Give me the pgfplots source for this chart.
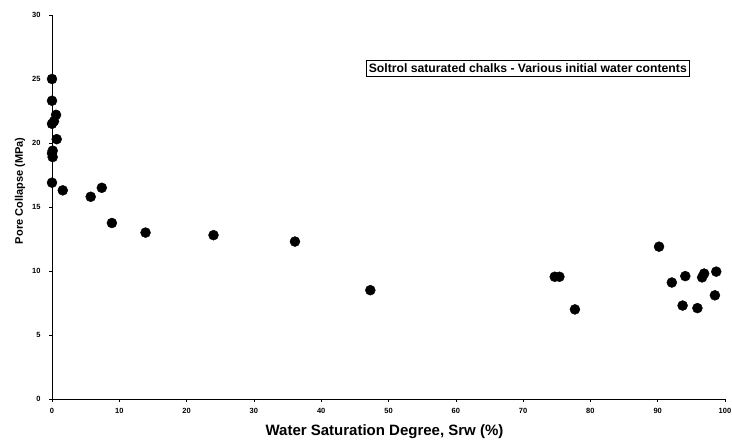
\documentclass[border=0pt]{standalone}
\usepackage{pgfplots}
\pgfplotsset{compat=1.18}
\usepackage{fontspec}
\setmainfont{Liberation Sans}
\begin{document}
\begin{tikzpicture}[x=1pt,y=1pt]
  \path[use as bounding box] (0,0) rectangle (732,444);
  \begin{axis}[
      at={(52pt,45pt)}, anchor=south west,
      scale only axis,
      width=673pt, height=384pt,
      xmin=0, xmax=100, ymin=0, ymax=30,
      axis x line*=bottom, axis y line*=left,
      axis line style={black, line width=0.8pt},
      xtick={0,10,...,100}, ytick={0,5,...,30},
      tick align=outside, major tick length=3pt,
      tick style={black, line width=0.6pt},
      ticklabel style={font=\bfseries\fontsize{7.5}{8}\selectfont},
      xticklabel style={yshift=-3pt},
      yticklabel style={xshift=-5pt},
      /pgf/number format/assume math mode=true,
      xlabel={\bfseries Water Saturation Degree, Srw (\%)},
      ylabel={\bfseries Pore Collapse (MPa)},
      xlabel style={font=\bfseries\fontsize{15}{17}\selectfont,
                    at={(axis description cs:0.5,0)}, anchor=center, yshift=-33pt, xshift=-4pt},
      ylabel style={font=\bfseries\fontsize{11}{13}\selectfont,
                    at={(axis description cs:-0.0475,0.542)}, anchor=center},
      clip=false,
    ]
    \addplot[only marks, mark=*, mark size=5pt, black] coordinates {
      (0,25.0) (0,23.3) (0.6,22.2) (0.3,21.7) (0,21.5) (0.7,20.3)
      (0.1,19.4) (0.1,18.9) (0,19.2) (0,16.9) (1.6,16.3)
      (5.75,15.8) (7.4,16.5) (8.9,13.75) (13.9,13.0) (24.0,12.8)
      (36.1,12.3) (47.3,8.5) (74.7,9.55) (75.4,9.55) (77.7,7.0)
      (90.2,11.9) (92.1,9.1) (94.1,9.6) (93.7,7.3) (95.9,7.1)
      (96.6,9.5) (96.9,9.8) (98.7,9.95) (98.5,8.1)
    };
    \node[draw, line width=0.8pt, inner xsep=2.5pt, inner ysep=3.5pt,
          font=\bfseries\fontsize{12.2}{14}\selectfont]
      at (axis cs:70.7,25.86) {Soltrol saturated chalks - Various initial water contents};
  \end{axis}
\end{tikzpicture}
\end{document}
